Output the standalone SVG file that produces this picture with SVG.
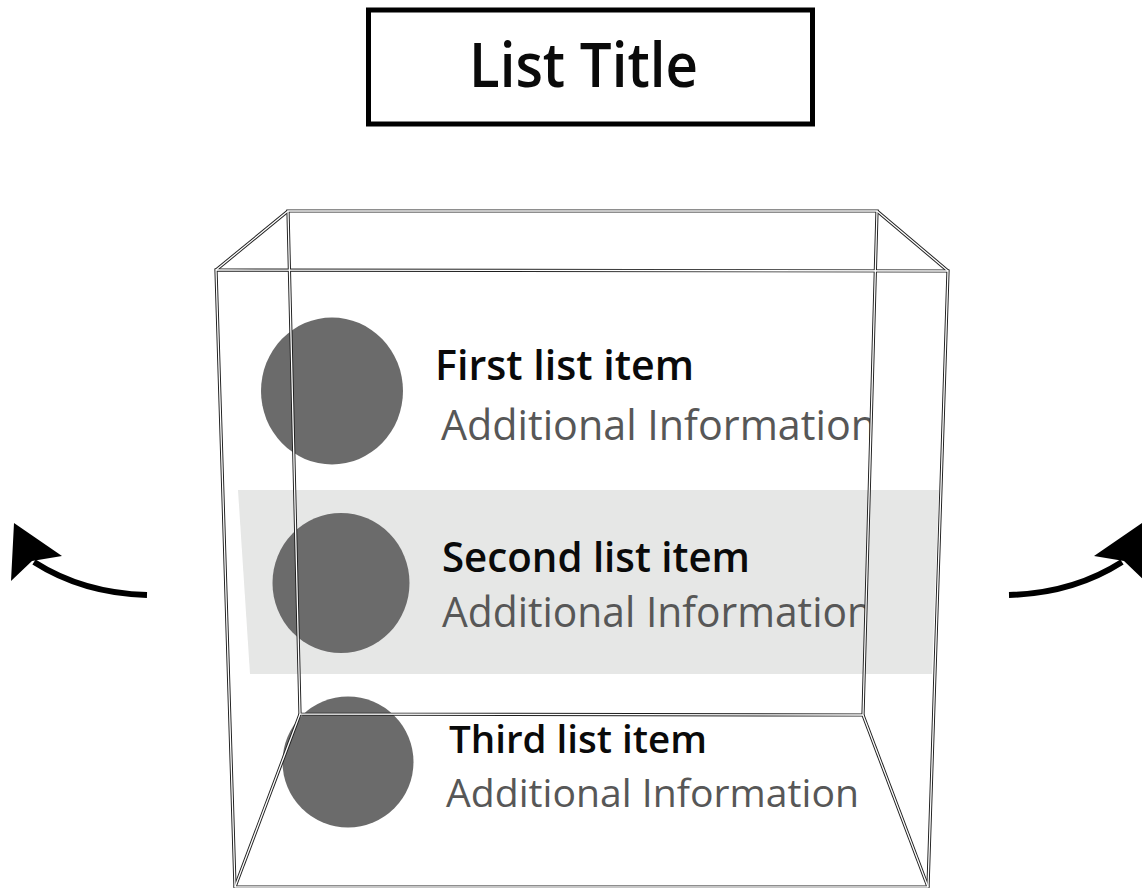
<svg xmlns="http://www.w3.org/2000/svg" width="1142" height="888" viewBox="0 0 1142 888">
  <style>
    .title { font-family: "Open Sans", "Noto Sans", sans-serif; font-weight: 600; fill: #0a0a0a; }
    .head { font-family: "Open Sans", "Noto Sans", sans-serif; font-weight: 600; fill: #0a0a0a; }
    .info { font-family: "Open Sans", "Noto Sans", sans-serif; font-weight: 400; fill: #575757; }
    .dot { fill: #6b6b6b; }
    .edge-out { fill: none; stroke: #1e1e1e; stroke-width: 3.2; stroke-linejoin: miter; }
    .edge-in { fill: none; stroke: #ffffff; stroke-width: 1.3; stroke-linejoin: miter; }
    .shaft { fill: none; stroke: #000; stroke-width: 6; }
    .head-tip { fill: #000; }
  </style>
  <defs>
    <!-- right-hand boundary of the box's back face; item text stops there -->
    <clipPath id="backClip">
      <polygon points="0,0 884,0 859,888 0,888"/>
    </clipPath>
    <!-- curved arrow, pointing up-left -->
    <g id="curvedArrow">
      <path class="shaft" d="M147,595 C110,594 70,585 34,562"/>
      <polygon class="head-tip" points="14,523 62,556 32,561 11,581"/>
    </g>
    <!-- box wireframe edges -->
    <g id="boxEdges">
      <polygon points="288,211 877,211 863,715 300,714"/>
      <polygon points="216,270 948,271 928,887 235,887"/>
      <line x1="288" y1="211" x2="216" y2="270"/>
      <line x1="877" y1="211" x2="948" y2="271"/>
      <line x1="300" y1="714" x2="235" y2="887"/>
      <line x1="863" y1="715" x2="928" y2="887"/>
    </g>
  </defs>

  <rect width="1142" height="888" fill="#ffffff"/>

  <g id="title">
    <rect x="368.5" y="10" width="444" height="114" fill="#ffffff" stroke="#000" stroke-width="5"/>
    <text class="title" x="469" y="87" font-size="61" textLength="229" lengthAdjust="spacingAndGlyphs">List Title</text>
  </g>

  <!-- highlighted row band -->
  <g id="highlight">
    <polygon points="238,490 939,490 932,674 250,674" fill="#e6e7e6"/>
  </g>

  <g id="item1">
    <ellipse class="dot" cx="332" cy="391" rx="71" ry="73.5"/>
    <g clip-path="url(#backClip)">
      <text class="head" x="435" y="380" font-size="42" textLength="259" lengthAdjust="spacingAndGlyphs">First list item</text>
      <text class="info" x="441" y="440" font-size="42" textLength="435" lengthAdjust="spacingAndGlyphs">Additional Information</text>
    </g>
  </g>

  <g id="item2">
    <ellipse class="dot" cx="341" cy="583" rx="68.5" ry="70"/>
    <g clip-path="url(#backClip)">
      <text class="head" x="442" y="572" font-size="42" textLength="308" lengthAdjust="spacingAndGlyphs">Second list item</text>
      <text class="info" x="442" y="627" font-size="42" textLength="430" lengthAdjust="spacingAndGlyphs">Additional Information</text>
    </g>
  </g>

  <g id="item3">
    <ellipse class="dot" cx="348" cy="762" rx="65.5" ry="65.5"/>
    <text class="head" x="449" y="753" font-size="38" textLength="258" lengthAdjust="spacingAndGlyphs">Third list item</text>
    <text class="info" x="446" y="807" font-size="39" textLength="413" lengthAdjust="spacingAndGlyphs">Additional Information</text>
  </g>

  <!-- wireframe box, drawn as double hairlines -->
  <g id="box">
    <use href="#boxEdges" class="edge-out"/>
    <use href="#boxEdges" class="edge-in"/>
  </g>

  <g id="connectors">
    <use href="#curvedArrow"/>
    <use href="#curvedArrow" transform="translate(1156,0) scale(-1,1)"/>
  </g>
</svg>
